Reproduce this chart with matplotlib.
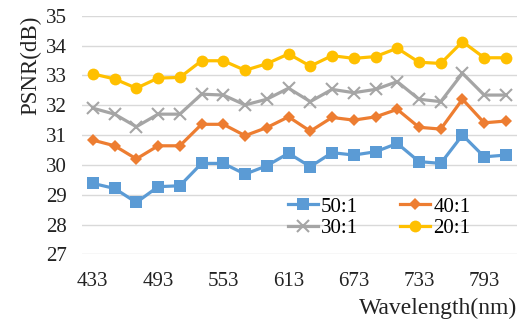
import matplotlib.pyplot as plt

plt.rcParams['font.family'] = ['Liberation Serif', 'DejaVu Serif']

wavelengths = [433 + 20 * i for i in range(20)]
tick_labels = ["433", "493", "553", "613", "673", "733", "793"]

psnr_50 = [29.38, 29.21, 28.74, 29.27, 29.30, 30.05, 30.05, 29.69, 29.97, 30.39,
           29.94, 30.41, 30.33, 30.44, 30.72, 30.11, 30.05, 31.00, 30.27, 30.33]
psnr_40 = [30.83, 30.64, 30.20, 30.64, 30.64, 31.36, 31.36, 30.98, 31.25, 31.61,
           31.13, 31.59, 31.50, 31.61, 31.86, 31.26, 31.20, 32.20, 31.41, 31.47]
psnr_30 = [31.90, 31.70, 31.28, 31.70, 31.70, 32.37, 32.34, 32.01, 32.20, 32.57,
           32.12, 32.53, 32.42, 32.53, 32.79, 32.20, 32.12, 33.07, 32.34, 32.34]
psnr_20 = [33.05, 32.88, 32.57, 32.91, 32.93, 33.49, 33.49, 33.17, 33.39, 33.72,
           33.31, 33.66, 33.57, 33.63, 33.91, 33.44, 33.40, 34.13, 33.59, 33.59]

series = [
    ("50:1", psnr_50, "#5B9BD5", "s", 8),
    ("40:1", psnr_40, "#ED7D31", "D", 6.5),
    ("30:1", psnr_30, "#A5A5A5", "x", 9),
    ("20:1", psnr_20, "#FFC000", "o", 8.5),
]


def main():
    fig = plt.figure(figsize=(5.29, 3.27), dpi=100)
    ax = fig.add_axes([0.155, 0.222, 0.822, 0.730])

    pos = list(range(len(wavelengths)))
    lines = []
    for label, values, color, marker, ms in series:
        ln, = ax.plot(pos, values, color=color, lw=2.3, marker=marker, ms=ms,
                      mew=1.5 if marker == "x" else 0, mec=color, label=label)
        lines.append(ln)

    ax.set_xlim(-0.5, len(wavelengths) - 0.5)
    ax.set_ylim(27, 35)
    ax.set_yticks(range(27, 36))
    ax.set_xticks(pos[::3])
    ax.set_xticklabels(tick_labels)
    ax.grid(axis="y", color="#D9D9D9", lw=1)
    ax.set_axisbelow(True)
    for s in ax.spines.values():
        s.set_visible(False)
    ax.tick_params(length=0, labelsize=15, colors="#222222")
    ax.tick_params(axis="x", pad=13)
    ax.tick_params(axis="y", pad=11)

    fig.text(0.058, 0.80, "PSNR(dB)", rotation=90, ha="center", va="center",
             fontsize=16.5, color="#222222")
    fig.text(0.977, 0.058, "Wavelength(nm)", ha="right", va="center",
             fontsize=17, color="#222222")

    # legend rows: 50:1, 40:1 / 30:1, 20:1
    order = [0, 2, 1, 3]
    ax.legend([lines[i] for i in order], [series[i][0] for i in order],
              loc="upper left", bbox_to_anchor=(0.544, 0.397),
              bbox_transform=fig.transFigure, ncol=2, frameon=False,
              fontsize=15, handlelength=1.45, handletextpad=0.15,
              columnspacing=2.0, labelspacing=0.1, borderaxespad=0,
              borderpad=0)

    fig.savefig("out.png", dpi=100)


if __name__ == "__main__":
    main()
